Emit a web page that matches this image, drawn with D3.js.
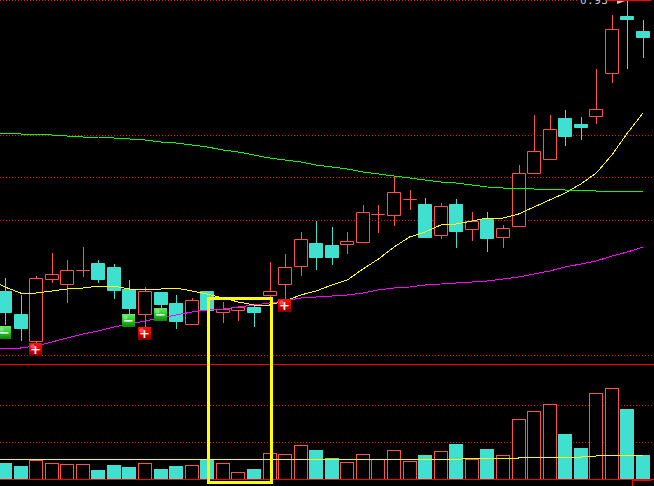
<!DOCTYPE html>
<html>
<head>
<meta charset="utf-8">
<script src="https://cdn.jsdelivr.net/npm/d3@7"></script>
<style>
    html, body { margin: 0; padding: 0; background: #000; overflow: hidden; }
    svg { display: block; }
</style>
</head>
<body>
<svg id="chart" width="654" height="486"></svg>
<script>
// Candles, values
const opens = [6.03,5.80,5.53,6.15,6.10,6.24,6.31,6.27,6.05,5.80,6.02,5.91,5.70,6.03,5.82,5.84,5.87,5.99,6.10,6.28,6.51,6.49,6.50,6.52,6.80,6.79,6.95,6.90,6.59,6.90,6.65,6.75,6.57,6.68,7.21,7.35,7.76,7.70,7.78,8.21,8.78,8.63];
const closes = [5.82,5.66,6.16,6.20,6.24,6.24,6.15,6.04,5.86,6.03,5.90,5.73,5.94,5.84,5.85,5.87,5.82,6.03,6.27,6.55,6.37,6.37,6.53,6.82,6.80,7.02,6.95,6.57,6.88,6.63,6.73,6.56,6.66,7.21,7.43,7.65,7.58,7.67,7.85,8.65,8.75,8.57];
const highs = [6.16,5.99,6.18,6.41,6.34,6.47,6.34,6.30,6.14,6.07,6.02,5.99,5.96,6.03,5.92,5.87,5.89,6.32,6.40,6.62,6.73,6.67,6.62,6.89,6.89,7.17,7.04,6.96,6.91,6.95,6.82,6.82,6.69,7.29,7.79,7.79,7.84,7.77,8.25,8.79,8.94,8.74];
const lows = [5.69,5.53,5.48,6.11,5.91,6.17,6.11,5.95,5.76,5.67,5.84,5.65,5.69,5.84,5.71,5.73,5.67,5.97,5.94,6.18,6.24,6.29,6.40,6.51,6.61,6.68,6.84,6.57,6.55,6.46,6.53,6.42,6.46,6.68,7.21,7.35,7.48,7.54,7.70,8.11,8.25,8.36];

// Moving averages, first value sits one candle left of the window
const maYellow = [6.15,6.07,6.01,6.01,6.03,6.05,6.06,6.08,6.08,6.05,6.05,6.05,6.06,6.03,6.00,5.96,5.92,5.89,5.89,5.93,5.99,6.03,6.09,6.14,6.25,6.35,6.47,6.57,6.62,6.69,6.70,6.73,6.76,6.76,6.80,6.87,6.94,7.01,7.10,7.21,7.39,7.61,7.81];
const maMagenta = [5.46,5.46,5.46,5.48,5.52,5.56,5.60,5.63,5.67,5.70,5.73,5.76,5.79,5.82,5.84,5.85,5.87,5.89,5.91,5.93,5.96,5.97,5.98,5.99,6.01,6.04,6.06,6.07,6.09,6.10,6.11,6.12,6.13,6.15,6.17,6.20,6.23,6.27,6.30,6.33,6.38,6.42,6.47];
const maGreen = [7.61,7.61,7.60,7.60,7.59,7.58,7.57,7.57,7.56,7.55,7.54,7.52,7.51,7.49,7.47,7.44,7.42,7.39,7.36,7.34,7.32,7.29,7.27,7.25,7.22,7.20,7.18,7.16,7.14,7.12,7.11,7.09,7.07,7.06,7.06,7.05,7.05,7.04,7.04,7.03,7.03,7.03,7.03];

// Volume
const volumes = [16,13,19,16,15,15,9,14,12,16,10,13,14,19,16,7,10,26,25,34,29,21,17,25,20,29,18,24,28,35,20,30,24,60,68,75,45,31,86,91,70,24];
const volumeMa = [19.5,19.5,19.5,19.5,19.5,19.5,19.5,19.5,19.5,19.5,19.5,19.5,19.5,19.5,19.5,19.5,19.5,19.5,19.5,19.5,19.5,19.5,19.5,19.5,19.5,19.5,19.5,19.5,19.5,19.5,19.5,21,21,21,21,22,22,22,22,23,24,24,24];

// Grid levels and signals
const priceGrid = [8.93,7.58,7.16,6.74,5.39];
const volumeGrid = [37,74];
const buyIndex = [2,9,18];
const buyPrice = [5.445,5.605,5.895];
const sellIndex = [0,8,10];
const sellPrice = [5.625,5.735,5.805];
const topLabel = '0.93';

const width = 654;
const height = 486;
const svg = d3.select('#chart');

const x = d3.scaleLinear().domain([0, 41]).range([5, 643]);
const yPrice = d3.scaleLinear().domain([5.29, 8.94]).range([365, 0]);
const yVolume = d3.scaleLinear().domain([0, 114]).range([479, 365]);
const bodyWidth = 13;

const CYAN = '#40E0D0';
const RED = '#FF5050';
const isUp = i => closes[i] >= opens[i];
const bodyLeft = i => Math.floor(x(i) - bodyWidth / 2) + 0.5;

// Gradients for the signal badges
const defs = svg.append('defs');
function badgeGradient(id, stops) {
    const grad = defs.append('linearGradient')
        .attr('id', id)
        .attr('x1', 0).attr('y1', 0).attr('x2', 0).attr('y2', 1);
    stops.forEach(s => grad.append('stop').attr('offset', s[0]).attr('stop-color', s[1]));
}
badgeGradient('badge-green', [[0, '#6CE86C'], [0.45, '#28D028'], [1, '#0C800C']]);
badgeGradient('badge-red', [[0, '#F81010'], [0.5, '#E80000'], [1, '#780000']]);

// Grid lines
const gridData = priceGrid.map(p => ({ y: yPrice(p), x2: p === 8.93 ? 578 : width }))
    .concat(volumeGrid.map(v => ({ y: yVolume(v), x2: width })));
svg.append('g').selectAll('line')
    .data(gridData)
    .join('line')
    .attr('x1', 0)
    .attr('x2', d => d.x2)
    .attr('y1', d => Math.floor(d.y) + 0.5)
    .attr('y2', d => Math.floor(d.y) + 0.5)
    .attr('stroke', '#FF0000')
    .attr('stroke-dasharray', '1,2');

// Panel separator
svg.append('line')
    .attr('x1', 0).attr('x2', width)
    .attr('y1', 364.5).attr('y2', 364.5)
    .attr('stroke', '#FF0000');

// Volume bars
const volumeBars = svg.append('g');
volumeBars.selectAll('rect')
    .data(volumes)
    .join('rect')
    .attr('x', (d, i) => bodyLeft(i))
    .attr('y', d => Math.round(yVolume(d)) + 0.5)
    .attr('width', bodyWidth)
    .attr('height', d => Math.round(yVolume(0) - yVolume(d)))
    .attr('fill', (d, i) => isUp(i) ? '#000' : CYAN)
    .attr('stroke', (d, i) => isUp(i) ? RED : CYAN);

svg.append('line')
    .attr('x1', 0).attr('x2', width)
    .attr('y1', 479.5).attr('y2', 479.5)
    .attr('stroke', '#FF0000');

// Candles
const candle = svg.append('g').selectAll('g')
    .data(d3.range(opens.length))
    .join('g');

candle.append('line')
    .attr('x1', i => Math.round(x(i)) + 0.5)
    .attr('x2', i => Math.round(x(i)) + 0.5)
    .attr('y1', i => Math.round(yPrice(highs[i])))
    .attr('y2', i => Math.round(yPrice(lows[i])))
    .attr('stroke', i => isUp(i) ? RED : CYAN);

candle.append('path')
    .attr('d', i => {
        const top = Math.round(yPrice(Math.max(opens[i], closes[i]))) + 0.5;
        const bottom = Math.round(yPrice(Math.min(opens[i], closes[i]))) + 0.5;
        const p = d3.path();
        p.rect(bodyLeft(i), top, bodyWidth, bottom - top);
        return p.toString();
    })
    .attr('fill', i => isUp(i) ? '#000' : CYAN)
    .attr('stroke', i => isUp(i) ? RED : CYAN);

// Moving average lines
const priceLine = d3.line().x((d, i) => x(i - 1)).y(d => yPrice(d));
const volumeLine = d3.line().x((d, i) => x(i - 1)).y(d => yVolume(d));

[[maGreen, '#00FF00'], [maMagenta, '#FF00FF'], [maYellow, '#FFFF00']].forEach(m => {
    svg.append('path')
        .datum(m[0])
        .attr('d', priceLine)
        .attr('fill', 'none')
        .attr('stroke', m[1])
        .attr('shape-rendering', 'crispEdges');
});

svg.append('path')
    .datum(volumeMa)
    .attr('d', volumeLine)
    .attr('fill', 'none')
    .attr('stroke', '#FFFF00')
    .attr('shape-rendering', 'crispEdges');

// Signal badges
function drawBadges(indexes, prices, gradient, label) {
    const badge = svg.append('g').selectAll('g')
        .data(indexes)
        .join('g')
        .attr('transform', (d, i) => `translate(${Math.round(x(d)) - 0.5}, ${Math.round(yPrice(prices[i])) + 0.5})`);
    badge.append('rect')
        .attr('x', -6.5).attr('y', -6.5)
        .attr('width', 13).attr('height', 13)
        .attr('fill', `url(#${gradient})`);
    badge.append('circle')
        .attr('cx', -3).attr('cy', -3).attr('r', 2.2)
        .attr('fill', '#fff')
        .attr('opacity', 0.3);
    badge.append('text')
        .attr('text-anchor', 'middle')
        .attr('y', 4.5)
        .attr('font-family', 'DejaVu Sans')
        .attr('font-weight', 'bold')
        .attr('font-size', '13px')
        .attr('fill', '#fff')
        .text(label);
}
drawBadges(sellIndex, sellPrice, 'badge-green', '\u2212');
drawBadges(buyIndex, buyPrice, 'badge-red', '+');

// Bits of the top and bottom right corners
svg.append('text')
    .attr('x', 580)
    .attr('y', 4)
    .attr('font-family', 'DejaVu Sans Mono')
    .attr('font-size', '11px')
    .attr('letter-spacing', '0.5px')
    .attr('fill', '#C8C8C8')
    .text(topLabel);

svg.append('line')
    .attr('x1', 607).attr('x2', 651)
    .attr('y1', 0.5).attr('y2', 0.5)
    .attr('stroke', '#FF0000');

svg.append('path')
    .attr('d', 'M617,1L625,1L620,3L617,4Z')
    .attr('fill', '#C8C8C8');

svg.append('path')
    .attr('d', 'M632.5,486V480')
    .attr('fill', 'none')
    .attr('stroke', '#FF0000');
svg.append('line')
    .attr('x1', 632).attr('x2', 651)
    .attr('y1', 480).attr('y2', 480)
    .attr('stroke', '#FF0000')
    .attr('stroke-width', 2);

// Highlight box
svg.append('rect')
    .attr('x', 208.5).attr('y', 298.5)
    .attr('width', 63).attr('height', 184)
    .attr('fill', 'none')
    .attr('stroke', '#FFFF00')
    .attr('stroke-width', 3);
</script>
</body>
</html>
